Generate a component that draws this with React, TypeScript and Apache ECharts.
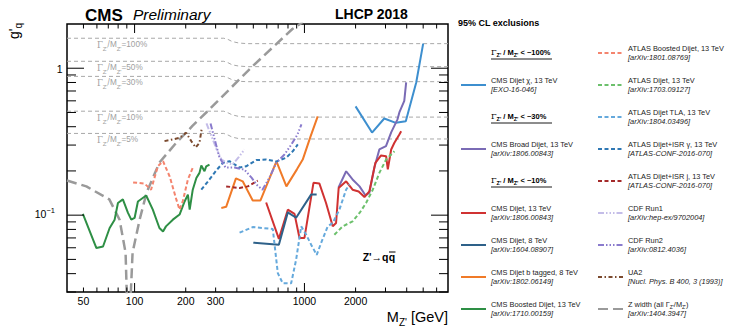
import React, { useEffect, useRef } from 'react';
import * as echarts from 'echarts';

const FONT = '"Liberation Sans", Arial, Helvetica, sans-serif';
const SERIF = '"DejaVu Serif", "Liberation Serif", serif';

// ---- axis ticks & labels ----
const xTickLabels = [50, 100, 200, 300, 1000, 2000];
const xMajorTicks = [100, 1000];
const xMinorTicks = [50, 60, 70, 80, 90, 200, 300, 400, 500, 600, 700, 800, 900, 2000, 3000, 4000, 5000, 6000];
const yMajorTicks = [0.1, 1];
const yMinorTicks = [0.03, 0.04, 0.05, 0.06, 0.07, 0.08, 0.09, 0.2, 0.3, 0.4, 0.5, 0.6, 0.7, 0.8, 0.9];
const yTickLabels = [0.1, 1];

// ---- width contours (Gamma/M) ----
const gammaLabels = ['100%', '50%', '30%', '10%', '5%'];
const gammaLabelMass = 60;
const gammaLeft = [1.6, 1.115, 0.88, 0.51, 0.36];
const gamma100 = [[40, 1.6], [335, 1.6], [355, 1.57], [375, 1.52], [410, 1.485], [460, 1.47], [7000, 1.47]];
const gamma50 = [[40, 1.115], [335, 1.115], [355, 1.09], [375, 1.055], [410, 1.035], [460, 1.025], [7000, 1.025]];
const gamma30 = [[40, 0.88], [335, 0.88], [355, 0.86], [375, 0.835], [410, 0.815], [460, 0.81], [7000, 0.81]];
const gamma10 = [[40, 0.51], [335, 0.51], [355, 0.497], [375, 0.482], [410, 0.47], [460, 0.465], [7000, 0.465]];
const gamma5 = [[40, 0.36], [335, 0.36], [355, 0.351], [375, 0.34], [410, 0.332], [460, 0.33], [7000, 0.33]];

// ---- exclusion curves [M (GeV), g'q] ----
const cmsDijetChi13 = [[2000, 0.55], [2500, 0.365], [2950, 0.455], [3450, 0.425], [3950, 0.435], [4550, 0.8], [5000, 1.47]];
const cmsBroadDijet13 = [[1585, 0.154], [1760, 0.199], [1920, 0.175], [2110, 0.157], [2290, 0.136], [2410, 0.142], [2580, 0.211], [2760, 0.28], [3020, 0.295], [3240, 0.366], [3530, 0.449], [3620, 0.5], [3870, 0.6], [3970, 0.8]];
const cmsDijet13 = [[595, 0.122], [707, 0.069], [798, 0.109], [874, 0.102], [935, 0.07], [1000, 0.07], [1130, 0.166], [1225, 0.164], [1340, 0.121], [1467, 0.084], [1535, 0.0885], [1590, 0.153], [1760, 0.17], [1920, 0.149], [2085, 0.145], [2255, 0.133], [2410, 0.145], [2615, 0.227], [2825, 0.255], [3025, 0.252], [3095, 0.205], [3240, 0.28], [3385, 0.311], [3620, 0.354], [3710, 0.373]];
const cmsDijet8 = [[500, 0.065], [707, 0.063], [798, 0.1045], [893, 0.096], [1094, 0.138], [1180, 0.138]];
const cmsBtag8 = [[324, 0.112], [346, 0.114], [395, 0.178], [433, 0.17], [496, 0.126], [551, 0.126], [684, 0.232], [783, 0.157], [903, 0.205], [977, 0.239], [1084, 0.341], [1197, 0.47]];
const cmsBoosted13 = [[49.6, 0.102], [59.6, 0.0597], [65.2, 0.0612], [71.3, 0.0818], [76.3, 0.0932], [79.8, 0.121], [85.3, 0.128], [91.3, 0.104], [95.6, 0.0932], [100, 0.0957], [104.6, 0.124], [117, 0.136], [128, 0.109], [140, 0.0818], [147, 0.0775], [153, 0.0839], [168, 0.0932], [184, 0.101], [197, 0.124], [206, 0.138], [211, 0.109], [220, 0.149], [231, 0.179], [241, 0.194], [247, 0.218], [258, 0.199], [264, 0.215], [276, 0.221]];
const atlasBoosted13 = [[98, 0.167], [114.5, 0.164], [125, 0.149], [137, 0.215], [147, 0.233], [161, 0.183], [176, 0.128], [184, 0.109], [192, 0.124], [206, 0.175], [220, 0.21]];
const atlasDijet13 = [[1500, 0.0736], [1680, 0.0839], [1920, 0.0908], [2110, 0.1035], [2305, 0.121], [2525, 0.149], [2760, 0.194], [3025, 0.239], [3385, 0.272]];
const atlasTLA13 = [[415, 0.076], [496, 0.083], [651, 0.0805], [697, 0.0403], [745, 0.0344], [835, 0.0344], [893, 0.0497], [957, 0.0839], [1024, 0.0736], [1095, 0.063], [1181, 0.0537], [1253, 0.0646], [1371, 0.0839], [1467, 0.0885], [1606, 0.109], [1758, 0.149], [1841, 0.162]];
const atlasIsrGamma13 = [[247, 0.149], [276, 0.175], [302, 0.201], [331, 0.227], [362, 0.233], [415, 0.211], [454, 0.215], [520, 0.237], [595, 0.239], [684, 0.232], [780, 0.246], [853, 0.272], [914, 0.303]];
const atlasIsrJet13 = [[346, 0.157], [415, 0.153], [464, 0.157], [531, 0.172]];
const cdfRun1 = [[265, 0.421], [284, 0.344], [304, 0.28], [325, 0.239], [348, 0.228], [377, 0.221], [409, 0.247], [443, 0.28]];
const cdfRun2 = [[280, 0.421], [296, 0.328], [316, 0.247], [343, 0.211], [387, 0.211], [443, 0.204], [488, 0.18], [529, 0.159], [566, 0.149], [622, 0.18], [684, 0.228], [763, 0.259], [838, 0.303], [910, 0.354], [960, 0.415]];
const ua2 = [[150, 0.319], [168, 0.328], [184, 0.336], [201, 0.364], [216, 0.318], [229, 0.289], [241, 0.311], [248, 0.383]];
const zWidth = [[40, 0.172], [52, 0.157], [71, 0.128], [81.6, 0.093], [88.5, 0.0555], [90.8, 0.02], [93.6, 0.02], [97.3, 0.0555], [107, 0.093], [117.7, 0.1425], [140, 0.228], [176.6, 0.313], [202, 0.366], [219, 0.405], [276, 0.525], [362, 0.719], [494, 1.03], [849, 1.85], [960, 2.03], [1000, 2.2]];

type Spec = { name: string; ref: string; color: string; dash: 'solid' | number[]; width: number; data: number[][] };

const DASH = [4, 2.5];
const DOTS = [6, 2, 1.5, 2, 1.5, 2, 1.5, 2];
const specs: Spec[] = [
  { name: 'CMS Dijet χ, 13 TeV', ref: '[EXO-16-046]', color: '#3d8fcf', dash: 'solid', width: 2, data: cmsDijetChi13 },
  { name: 'CMS Broad Dijet, 13 TeV', ref: '[arXiv:1806.00843]', color: '#7a6bb5', dash: 'solid', width: 2, data: cmsBroadDijet13 },
  { name: 'CMS Dijet, 13 TeV', ref: '[arXiv:1806.00843]', color: '#d03232', dash: 'solid', width: 2, data: cmsDijet13 },
  { name: 'CMS Dijet, 8 TeV', ref: '[arXiv:1604.08907]', color: '#2e6189', dash: 'solid', width: 2, data: cmsDijet8 },
  { name: 'CMS Dijet b tagged, 8 TeV', ref: '[arXiv:1802.06149]', color: '#f07a28', dash: 'solid', width: 2, data: cmsBtag8 },
  { name: 'CMS Boosted Dijet, 13 TeV', ref: '[arXiv:1710.00159]', color: '#2e8f45', dash: 'solid', width: 2, data: cmsBoosted13 },
  { name: 'ATLAS Boosted Dijet, 13 TeV', ref: '[arXiv:1801.08769]', color: '#f4846e', dash: DASH, width: 2, data: atlasBoosted13 },
  { name: 'ATLAS Dijet, 13 TeV', ref: '[arXiv:1703.09127]', color: '#6cc06c', dash: DASH, width: 2, data: atlasDijet13 },
  { name: 'ATLAS Dijet TLA, 13 TeV', ref: '[arXiv:1804.03496]', color: '#65a9dc', dash: DASH, width: 2, data: atlasTLA13 },
  { name: 'ATLAS Dijet+ISR γ, 13 TeV', ref: '[ATLAS-CONF-2016-070]', color: '#2f78b4', dash: DASH, width: 2, data: atlasIsrGamma13 },
  { name: 'ATLAS Dijet+ISR j, 13 TeV', ref: '[ATLAS-CONF-2016-070]', color: '#a42a2a', dash: DASH, width: 2, data: atlasIsrJet13 },
  { name: 'CDF Run1', ref: '[arXiv:hep-ex/9702004]', color: '#c4bde8', dash: DOTS, width: 2, data: cdfRun1 },
  { name: 'CDF Run2', ref: '[arXiv:0812.4036]', color: '#8a7bcd', dash: DOTS, width: 2, data: cdfRun2 },
  { name: 'UA2', ref: '[Nucl. Phys. B 400, 3 (1993)]', color: '#7b4a2e', dash: [4, 2.5, 1.5, 2.5], width: 2, data: ua2 },
  { name: 'Z width', ref: '[arXiv:1404.3947]', color: '#9a9a9a', dash: [10, 5], width: 2.5, data: zWidth },
];

const leftColumn = ['H:100%', 'CMS Dijet χ, 13 TeV', 'H:30%', 'CMS Broad Dijet, 13 TeV', 'H:10%', 'CMS Dijet, 13 TeV', 'CMS Dijet, 8 TeV', 'CMS Dijet b tagged, 8 TeV', 'CMS Boosted Dijet, 13 TeV'];
const rightColumn = ['ATLAS Boosted Dijet, 13 TeV', 'ATLAS Dijet, 13 TeV', 'ATLAS Dijet TLA, 13 TeV', 'ATLAS Dijet+ISR γ, 13 TeV', 'ATLAS Dijet+ISR j, 13 TeV', 'CDF Run1', 'CDF Run2', 'UA2', 'Z width'];

function tickSeries(values: number[], axis: 'x' | 'y', major: boolean) {
  return {
    type: 'custom', silent: true, z: 20, clip: false,
    data: values.map((v) => (axis === 'x' ? [v, 1] : [100, v])),
    encode: { x: 0, y: 1 },
    renderItem: (params: any, api: any) => {
      const cs = params.coordSys;
      const p = api.coord([api.value(0), api.value(1)]);
      const st = { stroke: '#000', lineWidth: 1 };
      if (axis === 'x') {
        const L = major ? 9 : 4.5;
        const b = cs.y + cs.height;
        const t = cs.y;
        return { type: 'group', children: [
          { type: 'line', shape: { x1: p[0], y1: b, x2: p[0], y2: b - L }, style: st },
          { type: 'line', shape: { x1: p[0], y1: t, x2: p[0], y2: t + L }, style: st },
        ] };
      }
      const L = major ? 17 : 9;
      const l = cs.x;
      const r = cs.x + cs.width;
      return { type: 'group', children: [
        { type: 'line', shape: { x1: l, y1: p[1], x2: l + L, y2: p[1] }, style: st },
        { type: 'line', shape: { x1: r, y1: p[1], x2: r - L, y2: p[1] }, style: st },
      ] };
    },
  };
}

function buildOption() {
  const series: any[] = [];
  [gamma100, gamma50, gamma30, gamma10, gamma5].forEach((d, i) => {
    series.push({ type: 'line', name: 'gamma' + i, data: d, symbol: 'none', silent: true, z: 1,
      lineStyle: { color: '#a8a8a8', width: 1, type: [4, 3] } });
  });
  specs.forEach((s) => {
    series.push({ type: 'line', name: s.name, data: s.data, symbol: 'none', silent: true, z: s.name === 'Z width' ? 2 : 3, clip: true,
      lineStyle: { color: s.color, width: s.width, type: s.dash } });
  });
  series.push(tickSeries(xMinorTicks, 'x', false));
  series.push(tickSeries(xMajorTicks, 'x', true));
  series.push(tickSeries(yMinorTicks, 'y', false));
  series.push(tickSeries(yMajorTicks, 'y', true));
  // x labels
  series.push({
    type: 'custom', silent: true, z: 20, clip: false,
    data: xTickLabels.map((v) => [v, 1]), encode: { x: 0, y: 1 },
    renderItem: (params: any, api: any) => {
      const cs = params.coordSys;
      const p = api.coord([api.value(0), 1]);
      return { type: 'text', x: p[0], y: cs.y + cs.height + 8.5,
        style: { text: String(api.value(0)), fill: '#000', fontSize: 10.5, fontFamily: FONT, align: 'center', verticalAlign: 'middle' } };
    },
  });
  // y labels
  series.push({
    type: 'custom', silent: true, z: 20, clip: false,
    data: yTickLabels.map((v) => [100, v]), encode: { x: 0, y: 1 },
    renderItem: (params: any, api: any) => {
      const cs = params.coordSys;
      const v = api.value(1);
      const p = api.coord([100, v]);
      const isOne = v >= 1;
      return { type: 'text', x: cs.x - (isOne ? 4.5 : 12), y: p[1] + (isOne ? 0 : -2),
        style: {
          text: isOne ? '{n|1}' : '{n|10}{s|−1}',
          rich: { n: { fontSize: 10.5, fontFamily: FONT, fill: '#000', padding: [2.5, 0, 0, 0], verticalAlign: 'bottom' },
                  s: { fontSize: 7.5, fontFamily: FONT, fill: '#000', verticalAlign: 'top' } },
          align: 'right', verticalAlign: 'middle' } };
    },
  });
  // gamma labels
  series.push({
    type: 'custom', silent: true, z: 4, clip: false,
    data: gammaLeft.map((g, i) => [gammaLabelMass, g, i]), encode: { x: 0, y: 1 },
    renderItem: (params: any, api: any) => {
      const p = api.coord([api.value(0), api.value(1)]);
      const lab = gammaLabels[api.value(2)];
      return { type: 'text', x: p[0], y: p[1] + 8,
        style: {
          text: `{g|Γ}{s|Z'}{n|/M}{s|Z'}{n|=${lab}}`,
          rich: {
            g: { fontSize: 8.5, fontFamily: SERIF, fill: '#a0a0a0', padding: [0, 0, 2, 0], verticalAlign: 'top' },
            n: { fontSize: 8.2, fontFamily: FONT, fill: '#a0a0a0', padding: [0, 0, 2, 0], verticalAlign: 'top' },
            s: { fontSize: 6, fontFamily: FONT, fill: '#a0a0a0', verticalAlign: 'bottom' },
          },
          align: 'left', verticalAlign: 'middle' } };
    },
  });

  const graphics: any[] = [];
  const txt = (x: number, y: number, text: string, extra: any) =>
    graphics.push({ type: 'text', x, y, silent: true, z: 50,
      style: { text, fill: '#000', fontFamily: FONT, align: 'left', verticalAlign: 'middle', ...extra } });
  txt(85, 15, 'CMS', { fontSize: 17, fontWeight: 'bold' });
  txt(133, 14, 'Preliminary', { fontSize: 15.5, fontStyle: 'italic' });
  txt(335, 14, 'LHCP 2018', { fontSize: 14, fontWeight: 'bold' });
  txt(388.5, 257, "Z'→q", { fontSize: 10.5, fontWeight: 'bold', align: 'right' });
  txt(388.8, 257, 'q', { fontSize: 10.5, fontWeight: 'bold', align: 'left' });
  graphics.push({ type: 'line', silent: true, shape: { x1: 389, y1: 252, x2: 395.5, y2: 252 }, style: { stroke: '#000', lineWidth: 1 } });
  txt(458, 23, '95% CL exclusions', { fontSize: 9, fontWeight: 'bold' });
  // x title
  graphics.push({ type: 'text', x: 448, y: 318, silent: true,
    style: { text: "{m|M}{s|Z'}{m| [GeV]}", align: 'right', verticalAlign: 'middle',
      rich: { m: { fontSize: 14.5, fontFamily: FONT, fill: '#000', padding: [0, 0, 3, 0], verticalAlign: 'top' },
              s: { fontSize: 10, fontFamily: FONT, fill: '#000', verticalAlign: 'bottom' } } } });
  // y title
  graphics.push({ type: 'text', x: 15, y: 31, rotation: Math.PI / 2, silent: true,
    style: { text: "{m|g'}{s|q}", align: 'center', verticalAlign: 'middle',
      rich: { m: { fontSize: 14, fontFamily: FONT, fill: '#000', padding: [0, 0, 3, 0], verticalAlign: 'top' },
              s: { fontSize: 10, fontFamily: FONT, fill: '#000', verticalAlign: 'bottom' } } } });

  const rowY = (i: number) => 53 + i * 32;
  const addEntry = (key: string, i: number, lx: number) => {
    const y = rowY(i);
    if (key.startsWith('H:')) {
      const pct = key.slice(2);
      graphics.push({ type: 'text', x: lx + 30, y, silent: true,
        style: { text: `{g|Γ}{s|Z'}{b| / M}{s|Z'}{b| < ~${pct}}`, align: 'left', verticalAlign: 'middle',
          rich: {
            g: { fontSize: 8, fontFamily: SERIF, fill: '#000', padding: [0, 0, 2, 0], verticalAlign: 'top' },
            b: { fontSize: 7.5, fontFamily: FONT, fontWeight: 'bold', fill: '#000', padding: [0, 0, 2, 0], verticalAlign: 'top' },
            s: { fontSize: 5.5, fontFamily: FONT, fontWeight: 'bold', fill: '#000', verticalAlign: 'bottom' },
          } } });
      graphics.push({ type: 'line', silent: true, shape: { x1: lx + 30, y1: y + 6, x2: lx + 91, y2: y + 6 }, style: { stroke: '#000', lineWidth: 0.9 } });
      return;
    }
    const s = specs.find((q) => q.name === key)!;
    graphics.push({ type: 'line', silent: true, shape: { x1: lx, y1: y, x2: lx + 25, y2: y },
      style: { stroke: s.color, lineWidth: s.width === 2.5 ? 2.2 : 2, lineDash: s.dash === 'solid' ? null : s.dash } });
    const first = key === 'Z width' ? "{n|Z width (all Γ}{s|Z'}{n|/M}{s|Z'}{n|)}" : `{n|${key}}`;
    graphics.push({ type: 'text', x: lx + 30, y, silent: true,
      style: { text: `${first}\n{i|${s.ref}}`, align: 'left', verticalAlign: 'middle',
        rich: {
          n: { fontSize: 7.4, fontFamily: FONT, fill: '#222', lineHeight: 9.5 },
          s: { fontSize: 5, fontFamily: FONT, fill: '#222', verticalAlign: 'bottom', lineHeight: 9.5 },
          i: { fontSize: 7.4, fontFamily: FONT, fontStyle: 'italic', fill: '#222', lineHeight: 9.5 },
        } } });
  };
  leftColumn.forEach((k, i) => addEntry(k, i, 461));
  rightColumn.forEach((k, i) => addEntry(k, i, 598));

  return {
    animation: false,
    backgroundColor: '#fff',
    textStyle: { fontFamily: FONT },
    grid: { left: 67, top: 24, width: 381, height: 268, show: true, borderColor: '#000', borderWidth: 1.5, backgroundColor: 'transparent', containLabel: false },
    xAxis: { type: 'log', logBase: 10, min: 40, max: 7000, axisLine: { show: false }, axisTick: { show: false }, axisLabel: { show: false }, splitLine: { show: false } },
    yAxis: { type: 'log', logBase: 10, min: 0.03, max: 2, axisLine: { show: false }, axisTick: { show: false }, axisLabel: { show: false }, splitLine: { show: false } },
    series,
    graphic: graphics,
  };
}

export default function App() {
  const ref = useRef<HTMLDivElement>(null);
  useEffect(() => {
    const chart = echarts.init(ref.current!, null, { renderer: 'svg' });
    chart.setOption(buildOption() as any);
    return () => chart.dispose();
  }, []);
  return <div ref={ref} style={{ position: 'fixed', left: 0, top: 0, width: 747, height: 332, background: '#fff' }} />;
}
